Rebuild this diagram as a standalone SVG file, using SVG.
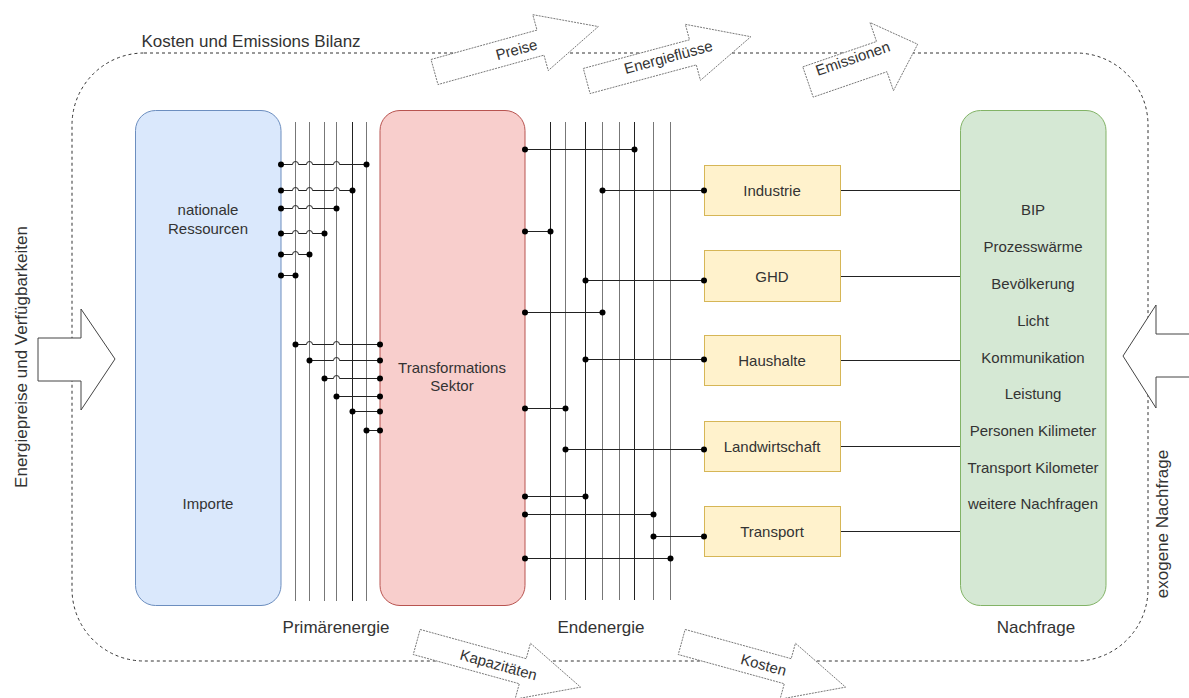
<svg xmlns="http://www.w3.org/2000/svg" width="1189" height="698" viewBox="0 0 1189 698">
<style>
text{font-family:"Liberation Sans",Arial,sans-serif;fill:#333;}
.t15{font-size:15px;text-anchor:middle;dominant-baseline:central;}
.t17{font-size:17px;text-anchor:middle;dominant-baseline:central;}
.bus{stroke:#222;stroke-width:1;fill:none;}
.bus2{stroke:#777;stroke-width:1;fill:none;}
.wire{stroke:#222;stroke-width:1;fill:none;}
.dot{fill:#000;}
.flow{fill:#fff;stroke:#666;stroke-width:0.8;stroke-dasharray:2 1;}
.big{fill:#fff;stroke:#444;stroke-width:1;}
.box{stroke-width:1;}
</style>
<defs>
<polygon id="arrowLong" points="0,-13 110,-13 110,-29 170,0 110,29 110,13 0,13"/>
<polygon id="arrowShort" points="0,-16 78,-16 78,-36 116,0 78,36 78,16 0,16"/>
</defs>
<rect width="1189" height="698" fill="#fff"/>

<g id="frame">
<rect x="72" y="53" width="1076" height="608" rx="72" ry="72" fill="none" stroke="#333" stroke-width="1" stroke-dasharray="3 3"/>
<text x="251" y="41" class="t17">Kosten und Emissions Bilanz</text>
</g>

<g id="flow-preise" transform="translate(434.5,72) rotate(-15.5)">
<use href="#arrowLong" class="flow"/>
<text x="85" y="0" class="t15">Preise</text>
</g>
<g id="flow-energiefluesse" transform="translate(586.7,81) rotate(-15.1)">
<use href="#arrowLong" class="flow"/>
<text x="85" y="-2" class="t15">Energieflüsse</text>
</g>
<g id="flow-emissionen" transform="translate(808,82) rotate(-19)">
<use href="#arrowShort" class="flow"/>
<text x="50" y="-8" class="t15">Emissionen</text>
</g>
<g id="flow-kapazitaeten" transform="translate(416.7,642) rotate(15.4)">
<use href="#arrowLong" class="flow"/>
<text x="85" y="0" class="t15">Kapazitäten</text>
</g>
<g id="flow-kosten" transform="translate(681.7,642) rotate(15.4)">
<use href="#arrowLong" class="flow"/>
<text x="85" y="0" class="t15">Kosten</text>
</g>

<g id="input-left">
<polygon class="big" points="38,338 81,338 81,309 115,359 81,410 81,381 38,381"/>
<text class="t17" transform="translate(21,357) rotate(-90)">Energiepreise und Verfügbarkeiten</text>
</g>
<g id="input-right">
<polygon class="big" points="1190,334 1156,334 1156,305 1123,356 1156,408 1156,377 1190,377"/>
<text class="t17" transform="translate(1162,524) rotate(-90)">exogene Nachfrage</text>
</g>

<g id="node-ressourcen">
<rect class="box" x="135.5" y="110.5" width="145.5" height="495" rx="20" fill="#dae8fc" stroke="#6c8ebf"/>
<text x="208" y="209" class="t15">nationale</text>
<text x="208" y="228" class="t15">Ressourcen</text>
<text x="208" y="503" class="t15">Importe</text>
</g>
<g id="node-transformation">
<rect class="box" x="380" y="110.5" width="145" height="495" rx="20" fill="#f8cecc" stroke="#b85450"/>
<text x="452" y="367" class="t15">Transformations</text>
<text x="452" y="385" class="t15">Sektor</text>
</g>
<g id="node-nachfrage">
<rect class="box" x="960.5" y="110.5" width="145.5" height="495" rx="20" fill="#d5e8d4" stroke="#82b366"/>
<text x="1033" y="209" class="t15">BIP</text>
<text x="1033" y="246" class="t15">Prozesswärme</text>
<text x="1033" y="283" class="t15">Bevölkerung</text>
<text x="1033" y="320" class="t15">Licht</text>
<text x="1033" y="357" class="t15">Kommunikation</text>
<text x="1033" y="393" class="t15">Leistung</text>
<text x="1033" y="430" class="t15">Personen Kilimeter</text>
<text x="1033" y="467" class="t15">Transport Kilometer</text>
<text x="1033" y="503" class="t15">weitere Nachfragen</text>
</g>
<g id="node-industrie">
<rect class="box" x="704.5" y="165.5" width="136" height="50" fill="#fff2cc" stroke="#d6b656"/>
<text x="772" y="190" class="t15">Industrie</text>
</g>
<g id="node-ghd">
<rect class="box" x="704.5" y="250.5" width="136" height="51" fill="#fff2cc" stroke="#d6b656"/>
<text x="772" y="276" class="t15">GHD</text>
</g>
<g id="node-haushalte">
<rect class="box" x="704.5" y="335.5" width="136" height="50" fill="#fff2cc" stroke="#d6b656"/>
<text x="772" y="360" class="t15">Haushalte</text>
</g>
<g id="node-landwirtschaft">
<rect class="box" x="704.5" y="421.5" width="136" height="50" fill="#fff2cc" stroke="#d6b656"/>
<text x="772" y="446" class="t15">Landwirtschaft</text>
</g>
<g id="node-transport">
<rect class="box" x="704.5" y="506.5" width="136" height="50" fill="#fff2cc" stroke="#d6b656"/>
<text x="772" y="531" class="t15">Transport</text>
</g>

<g id="labels">
<text x="336" y="627" class="t17">Primärenergie</text>
<text x="601" y="627" class="t17">Endenergie</text>
<text x="1036" y="627" class="t17">Nachfrage</text>
</g>

<g id="connectors">
<g id="primary-bus">
<path class="bus2" d="M295.5,122V601M309.5,122V601M324.5,122V601M336.5,122V601M366.5,122V601"/>
<path class="bus" d="M352.5,122V601"/>
</g>
<g id="final-bus">
<path class="bus" d="M550.5,122V600M585.5,122V600M634.5,122V600"/>
<path class="bus2" d="M565.5,122V600M602.5,122V600M619.5,122V600M653.5,122V600M670.5,122V600"/>
</g>
<g id="primary-wires">
<path class="wire" d="M281,164.5H292.5a3,3 0 0 1 6,0H306.5a3,3 0 0 1 6,0H333.5a3,3 0 0 1 6,0H366.5"/>
<path class="wire" d="M281,190.5H292.5a3,3 0 0 1 6,0H306.5a3,3 0 0 1 6,0H333.5a3,3 0 0 1 6,0H352.5"/>
<path class="wire" d="M281,208.5H292.5a3,3 0 0 1 6,0H306.5a3,3 0 0 1 6,0H336.5"/>
<path class="wire" d="M281,233.5H292.5a3,3 0 0 1 6,0H306.5a3,3 0 0 1 6,0H324.5"/>
<path class="wire" d="M281,254.5H292.5a3,3 0 0 1 6,0H309.5"/>
<path class="wire" d="M281,275.5H295.5"/>
<path class="wire" d="M295.5,344.5H306.5a3,3 0 0 1 6,0H333.5a3,3 0 0 1 6,0H380"/>
<path class="wire" d="M309.5,360.5H333.5a3,3 0 0 1 6,0H380"/>
<path class="wire" d="M324.5,378.5H333.5a3,3 0 0 1 6,0H380"/>
<path class="wire" d="M336.5,396.5H380"/>
<path class="wire" d="M352.5,411.5H380"/>
<path class="wire" d="M366.5,430.5H380"/>
</g>
<g id="final-wires">
<path class="wire" d="M525,149.5H634.5"/>
<path class="wire" d="M602.5,190.5H704"/>
<path class="wire" d="M525,231.5H550.5"/>
<path class="wire" d="M585.5,280.5H704"/>
<path class="wire" d="M525,312.5H602.5"/>
<path class="wire" d="M585.5,359.5H704"/>
<path class="wire" d="M525,408.5H565.5"/>
<path class="wire" d="M565.5,449.5H704"/>
<path class="wire" d="M525,496.5H585.5"/>
<path class="wire" d="M525,514.5H653.5"/>
<path class="wire" d="M653.5,536.5H704"/>
<path class="wire" d="M525,558.5H670.5"/>
</g>
<g id="demand-wires">
<path class="wire" d="M841,190.5H960M841,276.5H960M841,360.5H960M841,446.5H960M841,531.5H960"/>
</g>
<g id="junctions" class="dot">
<circle cx="281" cy="164.5" r="3"/><circle cx="366.5" cy="164.5" r="3"/>
<circle cx="281" cy="190.5" r="3"/><circle cx="352.5" cy="190.5" r="3"/>
<circle cx="281" cy="208.5" r="3"/><circle cx="336.5" cy="208.5" r="3"/>
<circle cx="281" cy="233.5" r="3"/><circle cx="324.5" cy="233.5" r="3"/>
<circle cx="281" cy="254.5" r="3"/><circle cx="309.5" cy="254.5" r="3"/>
<circle cx="281" cy="275.5" r="3"/><circle cx="295.5" cy="275.5" r="3"/>
<circle cx="295.5" cy="344.5" r="3"/><circle cx="380" cy="344.5" r="3"/>
<circle cx="309.5" cy="360.5" r="3"/><circle cx="380" cy="360.5" r="3"/>
<circle cx="324.5" cy="378.5" r="3"/><circle cx="380" cy="378.5" r="3"/>
<circle cx="336.5" cy="396.5" r="3"/><circle cx="380" cy="396.5" r="3"/>
<circle cx="352.5" cy="411.5" r="3"/><circle cx="380" cy="411.5" r="3"/>
<circle cx="366.5" cy="430.5" r="3"/><circle cx="380" cy="430.5" r="3"/>
<circle cx="525" cy="149.5" r="3"/><circle cx="634.5" cy="149.5" r="3"/>
<circle cx="602.5" cy="190.5" r="3"/><circle cx="704" cy="190.5" r="3"/>
<circle cx="525" cy="231.5" r="3"/><circle cx="550.5" cy="231.5" r="3"/>
<circle cx="585.5" cy="280.5" r="3"/><circle cx="704" cy="280.5" r="3"/>
<circle cx="525" cy="312.5" r="3"/><circle cx="602.5" cy="312.5" r="3"/>
<circle cx="585.5" cy="359.5" r="3"/><circle cx="704" cy="359.5" r="3"/>
<circle cx="525" cy="408.5" r="3"/><circle cx="565.5" cy="408.5" r="3"/>
<circle cx="565.5" cy="449.5" r="3"/><circle cx="704" cy="449.5" r="3"/>
<circle cx="525" cy="496.5" r="3"/><circle cx="585.5" cy="496.5" r="3"/>
<circle cx="525" cy="514.5" r="3"/><circle cx="653.5" cy="514.5" r="3"/>
<circle cx="653.5" cy="536.5" r="3"/><circle cx="704" cy="536.5" r="3"/>
<circle cx="525" cy="558.5" r="3"/><circle cx="670.5" cy="558.5" r="3"/>
</g>
</g>
</svg>
